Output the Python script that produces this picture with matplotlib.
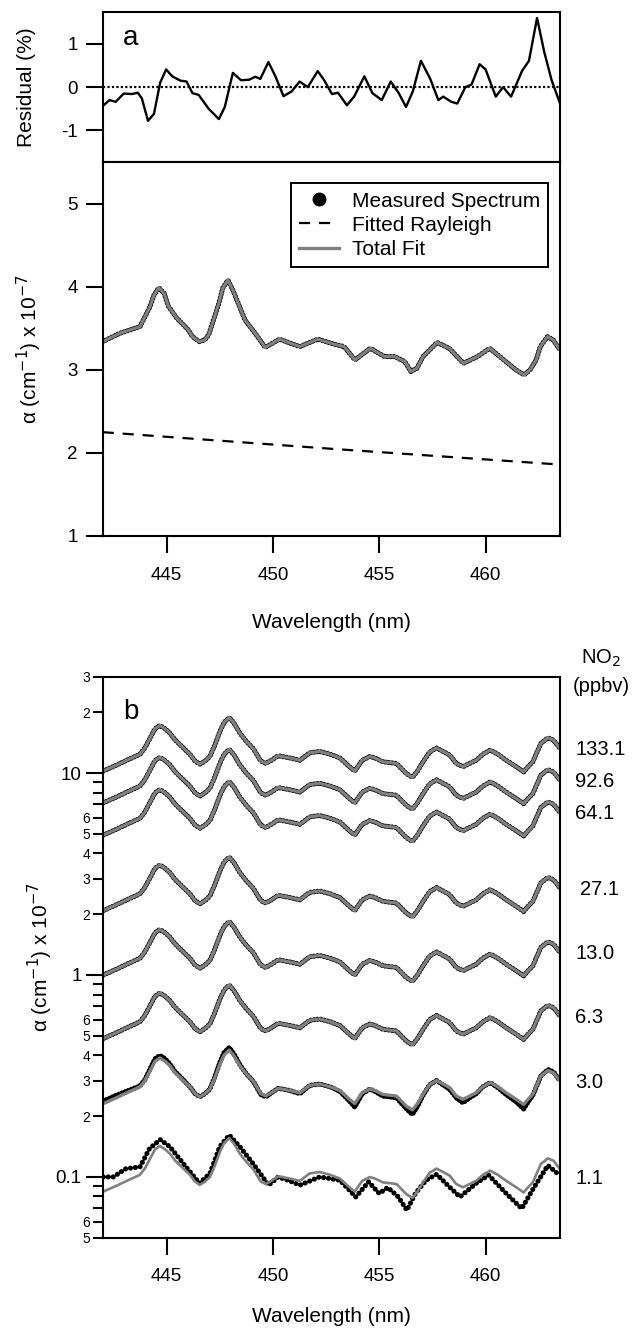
import matplotlib

matplotlib.use("Agg")
import matplotlib.pyplot as plt
import numpy as np
from matplotlib.lines import Line2D
from matplotlib.ticker import FixedFormatter, FixedLocator, NullLocator
from matplotlib.transforms import blended_transform_factory

plt.rcParams["font.family"] = ["Liberation Sans", "DejaVu Sans"]
plt.rcParams["axes.linewidth"] = 1.5
plt.rcParams["lines.solid_joinstyle"] = "round"

INK = "black"
FIT_GREY = "#808080"
XLIM = (442.0, 463.5)
FS = 15      # axis labels, legend
TFS = 13.5   # tick labels

# ---- panel a: residual (%)
RES_WL = [442.00, 442.32, 442.61, 442.99, 443.37, 443.65, 443.84, 444.13, 444.41, 444.70,
          444.98, 445.27, 445.65, 445.94, 446.22, 446.51, 446.98, 447.46, 447.74, 448.12,
          448.50, 448.88, 449.17, 449.41, 449.79, 450.12, 450.50, 450.88, 451.26, 451.64,
          452.11, 452.40, 452.78, 453.06, 453.48, 453.82, 454.30, 454.68, 455.12, 455.54,
          455.92, 456.26, 456.58, 456.96, 457.40, 457.78, 458.01, 458.39, 458.67, 459.05,
          459.34, 459.72, 460.00, 460.48, 460.82, 461.20, 461.71, 462.04, 462.42, 462.76,
          463.10, 463.50]
RES_PCT = [-0.44, -0.30, -0.34, -0.15, -0.16, -0.13, -0.26, -0.78, -0.62, 0.10,
           0.41, 0.25, 0.15, 0.13, -0.14, -0.18, -0.50, -0.74, -0.46, 0.33,
           0.16, 0.17, 0.24, 0.19, 0.58, 0.25, -0.21, -0.10, 0.13, 0.00,
           0.37, 0.17, -0.16, -0.13, -0.42, -0.22, 0.25, -0.14, -0.30, 0.13,
           -0.14, -0.46, -0.10, 0.61, 0.19, -0.30, -0.22, -0.34, -0.38, 0.00,
           0.06, 0.53, 0.41, -0.22, 0.00, -0.22, 0.37, 0.61, 1.60, 0.81,
           0.17, -0.38]

# ---- panel a: measured spectrum / total fit and fitted Rayleigh (x 1e-7 cm-1)
SPEC_WL = [442.00, 442.80, 443.75, 444.22, 444.41, 444.64, 444.89, 445.08, 445.46, 446.03,
           446.22, 446.54, 446.79, 446.98, 447.46, 447.65, 447.89, 448.12, 448.31, 448.69,
           449.17, 449.64, 450.31, 451.26, 452.11, 452.87, 453.35, 453.86, 454.58, 455.25,
           455.73, 456.20, 456.49, 456.77, 457.06, 457.72, 458.29, 458.96, 459.62, 460.19,
           460.86, 461.43, 461.81, 462.09, 462.38, 462.57, 462.91, 463.18, 463.50]
SPEC_A = [3.34, 3.44, 3.52, 3.76, 3.90, 3.99, 3.92, 3.77, 3.63, 3.48,
          3.40, 3.34, 3.36, 3.42, 3.80, 3.99, 4.08, 3.96, 3.84, 3.60,
          3.44, 3.27, 3.37, 3.28, 3.37, 3.31, 3.28, 3.12, 3.26, 3.16,
          3.16, 3.10, 2.98, 3.02, 3.16, 3.33, 3.26, 3.08, 3.16, 3.26,
          3.12, 3.00, 2.94, 3.00, 3.12, 3.28, 3.40, 3.36, 3.24]
RAY_WL = [442.0, 452.75, 463.5]
RAY_A = [2.25, 2.05, 1.86]

# ---- panel b: spectra for several NO2 mixing ratios
NO2_PPBV = [133.1, 92.6, 64.1, 27.1, 13.0, 6.3, 3.0, 1.1]
NO2_LABELS = ["133.1", "92.6", "64.1", "27.1", "13.0", "6.3", "3.0", "1.1"]
# absorption of the 13.0 ppbv spectrum (x 1e-7 cm-1)
SHAPE_WL = [442.03, 442.66, 443.13, 443.75, 443.98, 444.22, 444.46, 444.69, 444.93, 445.16,
            445.39, 445.63, 446.10, 446.34, 446.57, 446.81, 447.04, 447.28, 447.51, 447.71,
            447.95, 448.18, 448.45, 448.76, 449.08, 449.43, 449.67, 449.93, 450.25, 450.80,
            451.27, 451.73, 452.20, 452.70, 453.15, 453.60, 453.85, 454.20, 454.56, 454.80,
            455.18, 455.50, 455.81, 456.28, 456.56, 456.80, 457.06, 457.37, 457.69, 458.00,
            458.31, 458.62, 458.94, 459.25, 459.56, 459.87, 460.22, 460.58, 460.97, 461.44,
            461.79, 462.00, 462.22, 462.60, 462.93, 463.20, 463.48]
SHAPE_13 = [1.00, 1.07, 1.13, 1.21, 1.30, 1.45, 1.62, 1.68, 1.62, 1.54,
            1.43, 1.35, 1.21, 1.12, 1.08, 1.12, 1.18, 1.35, 1.57, 1.74,
            1.84, 1.72, 1.54, 1.40, 1.29, 1.12, 1.09, 1.13, 1.19, 1.16,
            1.13, 1.23, 1.25, 1.21, 1.16, 1.05, 1.00, 1.13, 1.18, 1.16,
            1.11, 1.10, 1.09, 0.97, 0.93, 1.00, 1.11, 1.24, 1.30, 1.25,
            1.20, 1.09, 1.05, 1.09, 1.13, 1.21, 1.27, 1.21, 1.13, 1.05,
            0.99, 1.05, 1.11, 1.37, 1.46, 1.42, 1.30]
# measured / fit for the 3.0 ppbv spectrum
DEV_3 = [1.03, 1.03, 1.02, 1.01, 1.01, 1.02, 1.03, 1.03, 1.03, 1.02,
         1.01, 1.01, 1.00, 1.00, 1.00, 1.00, 1.00, 1.01, 1.02, 1.03,
         1.03, 1.02, 1.01, 1.00, 1.00, 0.99, 0.99, 1.00, 1.00, 1.00,
         0.99, 1.00, 1.00, 1.00, 0.99, 0.98, 0.96, 0.99, 1.00, 0.99,
         0.98, 0.98, 0.98, 0.97, 0.95, 0.97, 0.99, 1.00, 1.00, 0.99,
         0.98, 0.98, 0.96, 0.98, 0.99, 1.00, 1.00, 0.99, 0.98, 0.97,
         0.95, 0.97, 0.99, 1.00, 1.01, 1.01, 1.00]
# measured spectrum at 1.1 ppbv (x 1e-7 cm-1)
MEAS_1P1_WL = [442.03, 442.50, 443.10, 443.75, 444.20, 444.70, 445.16, 445.80, 446.55, 447.04,
               447.50, 447.95, 448.45, 449.08, 449.80, 450.25, 450.80, 451.27, 452.20, 453.15,
               453.90, 454.50, 455.00, 455.40, 455.90, 456.30, 456.70, 457.20, 457.70, 458.30,
               458.80, 459.56, 460.15, 460.97, 461.70, 462.20, 462.93, 463.48]
MEAS_1P1 = [0.100, 0.100, 0.110, 0.112, 0.138, 0.153, 0.141, 0.116, 0.093, 0.104,
            0.141, 0.161, 0.141, 0.116, 0.091, 0.100, 0.0955, 0.091, 0.100, 0.0963,
            0.0796, 0.0945, 0.0828, 0.0886, 0.0796, 0.0684, 0.0828, 0.0963, 0.103, 0.0892,
            0.0796, 0.093, 0.102, 0.0828, 0.0697, 0.086, 0.114, 0.102]

MAJ_B = [0.1, 1, 10]
MAJ_B_LABELS = ["0.1", "1", "10"]
MIN_B = [0.05, 0.06, 0.07, 0.08, 0.09, 0.2, 0.3, 0.4, 0.5, 0.6, 0.7, 0.8, 0.9,
         2, 3, 4, 5, 6, 7, 8, 9, 20, 30]
MIN_B_LABELS = ["5", "6", "", "", "", "2", "3", "4", "5", "6", "", "", "",
                "2", "3", "4", "5", "6", "", "", "", "2", "3"]


def dots(gap):
    return dict(color=INK, lw=3.7, linestyle=(0, (0.01, gap)), dash_capstyle="round",
                solid_capstyle="round")


YLAB = "\u03b1 (cm$^{-1}$) x 10$^{-7}$"

fig = plt.figure(figsize=(6.32, 13.30), dpi=100)
L, W = 0.1625, 0.7236
ax_r = fig.add_axes([L, 0.878, W, 0.113])
ax_a = fig.add_axes([L, 0.597, W, 0.281])
ax_b = fig.add_axes([L, 0.0694, W, 0.4218])

# residual
ax_r.plot(RES_WL, RES_PCT, color=INK, lw=1.7)
ax_r.axhline(0, color=INK, lw=1.6, linestyle=(0, (1, 1)))
ax_r.set_xlim(*XLIM)
ax_r.set_ylim(-1.74, 1.74)
ax_r.set_yticks([-1, 0, 1])
ax_r.set_yticklabels(["-1", "0", "1"])
ax_r.xaxis.set_major_locator(NullLocator())
ax_r.set_ylabel("Residual (%)", fontsize=FS)
ax_r.yaxis.set_label_coords(-0.145, 0.5)
ax_r.text(0.045, 0.83, "a", transform=ax_r.transAxes, fontsize=20, va="center")

# panel a spectrum
ax_a.plot(SPEC_WL, SPEC_A, **dots(0.65))
ax_a.plot(RAY_WL, RAY_A, color=INK, lw=1.6, linestyle=(0, (5, 4)))
ax_a.plot(SPEC_WL, SPEC_A, color=FIT_GREY, lw=2.4)
ax_a.set_xlim(*XLIM)
ax_a.set_ylim(1, 5.5)
ax_a.set_yticks([1, 2, 3, 4, 5])
ax_a.set_xticks([445, 450, 455, 460])
ax_a.set_ylabel(YLAB, fontsize=FS)
ax_a.yaxis.set_label_coords(-0.128, 0.5)
ax_a.set_xlabel("Wavelength (nm)", fontsize=FS)
ax_a.xaxis.set_label_coords(0.5, -0.207)

handles = [Line2D([], [], color=INK, marker="o", ms=9, lw=0),
           Line2D([], [], color=INK, lw=1.6, linestyle=(0, (5, 4))),
           Line2D([], [], color=FIT_GREY, lw=2.4)]
leg = ax_a.legend(handles, ["Measured Spectrum", "Fitted Rayleigh", "Total Fit"],
                  loc="upper right", bbox_to_anchor=(0.974, 0.944), borderaxespad=0,
                  fontsize=FS, fancybox=False, framealpha=1, edgecolor=INK,
                  handlelength=1.9, labelspacing=0.25, borderpad=0.4, handletextpad=0.6)
leg.get_frame().set_linewidth(1.4)

# panel b spectra
for conc, lab in zip(NO2_PPBV, NO2_LABELS):
    fit = np.array(SHAPE_13) * conc / 13.0
    if lab == "1.1":
        ax_b.plot(MEAS_1P1_WL, MEAS_1P1, **dots(0.95))
        ax_b.plot(SHAPE_WL, fit, color=FIT_GREY, lw=1.9)
    else:
        meas = fit * np.array(DEV_3) if lab == "3.0" else fit
        ax_b.plot(SHAPE_WL, meas, **dots(0.65))
        ax_b.plot(SHAPE_WL, fit, color=FIT_GREY, lw=2.4)

ax_b.set_xlim(*XLIM)
ax_b.set_yscale("log")
ax_b.set_ylim(0.05, 30)
ax_b.yaxis.set_major_locator(FixedLocator(MAJ_B))
ax_b.yaxis.set_major_formatter(FixedFormatter(MAJ_B_LABELS))
ax_b.yaxis.set_minor_locator(FixedLocator(MIN_B))
ax_b.yaxis.set_minor_formatter(FixedFormatter(MIN_B_LABELS))
ax_b.set_xticks([445, 450, 455, 460])
ax_b.set_ylabel(YLAB, fontsize=FS)
ax_b.yaxis.set_label_coords(-0.104, 0.5)
ax_b.set_xlabel("Wavelength (nm)", fontsize=FS)
ax_b.xaxis.set_label_coords(0.5, -0.124)
ax_b.text(0.045, 0.937, "b", transform=ax_b.transAxes, fontsize=20, va="center")

tr = blended_transform_factory(ax_b.transAxes, ax_b.transData)
for conc, lab in zip(NO2_PPBV, NO2_LABELS):
    yv = SHAPE_13[-1] * conc / 13.0
    if lab == "1.1":
        yv = yv * 0.91
    xo = 1.044 if lab == "27.1" else 1.033
    ax_b.text(xo, yv * 0.98, lab, transform=tr, fontsize=14.5, va="center", ha="left")
ax_b.text(1.09, 1.033, "NO$_2$", transform=ax_b.transAxes, fontsize=14.5,
          ha="center", va="center")
ax_b.text(1.09, 0.982, "(ppbv)", transform=ax_b.transAxes, fontsize=14.5,
          ha="center", va="center")

for ax in (ax_r, ax_a, ax_b):
    ax.tick_params(axis="both", which="major", direction="out", length=12, width=1.5,
                   labelsize=TFS, right=False, top=False)
    ax.tick_params(axis="x", which="major", pad=10)
    ax.tick_params(axis="y", which="major", pad=6)
    for sp in ax.spines.values():
        sp.set_linewidth(1.5)
ax_b.tick_params(axis="y", which="major", pad=3, labelsize=TFS)
ax_b.tick_params(axis="y", which="minor", direction="out", length=7, width=1.5,
                 labelsize=10, pad=2)

fig.savefig("out.png", dpi=100)
